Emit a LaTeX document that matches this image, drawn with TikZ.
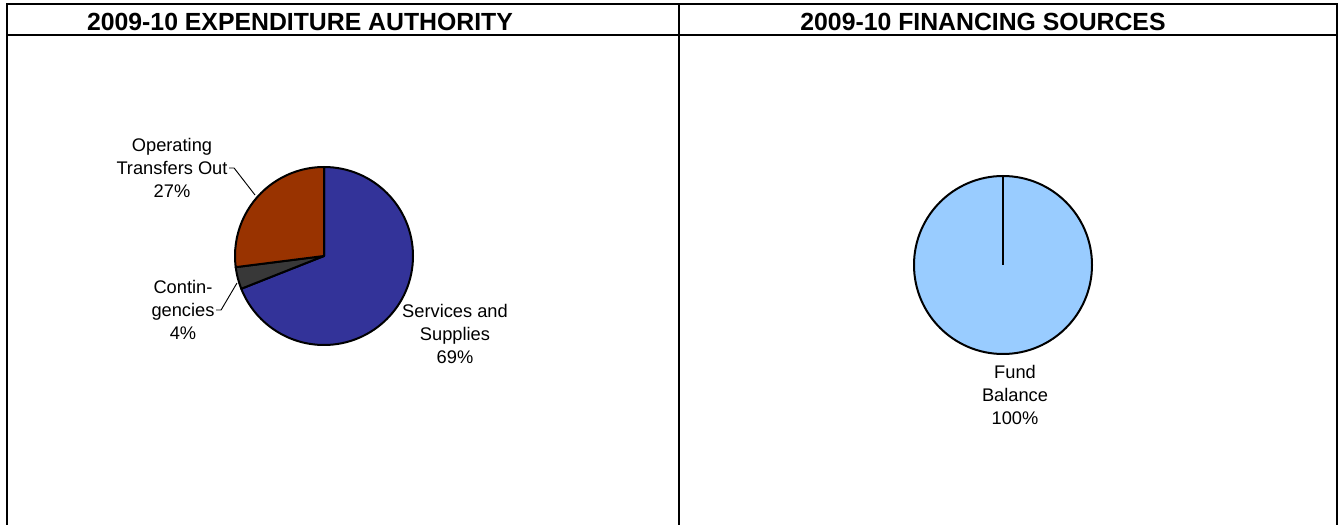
\documentclass[tikz,border=0pt]{standalone}
\usepackage{fontspec}
\setmainfont{Liberation Sans}
\usetikzlibrary{positioning}
\definecolor{svcblue}{HTML}{333399}
\definecolor{contgrey}{HTML}{383838}
\definecolor{otobrown}{HTML}{993300}
\definecolor{fundblue}{HTML}{99CCFF}
\begin{document}
\begin{tikzpicture}[x=0.75pt,y=0.75pt,
  frame/.style={line width=1.5pt},
  slice/.style={draw=black,line width=1.5pt,line join=round},
  lbl/.style={align=center,font=\fontsize{13.7}{17.25}\selectfont,inner sep=1pt},
  head/.style={font=\bfseries\fontsize{18.6}{20}\selectfont},
  leader/.style={line width=0.7pt}]

\useasboundingbox (0,0) rectangle (1340,525);

% table frame
\draw[frame] (7,0) -- (7,521) -- (1337,521) -- (1337,0);
\draw[frame] (7,490) -- (1337,490);
\draw[frame] (679,0) -- (679,521);

\node[head] (1) at (300,503) {2009-10 EXPENDITURE AUTHORITY};
\node[head] (2) at (983,503) {2009-10 FINANCING SOURCES};

% expenditure pie
\coordinate (c1) at (324,269);
\filldraw[slice,fill=svcblue] (c1) -- ++(90:66.75pt) arc[start angle=90,end angle=-158.4,radius=66.75pt] -- cycle;
\filldraw[slice,fill=contgrey] (c1) -- ++(201.6:66.75pt) arc[start angle=201.6,end angle=187.2,radius=66.75pt] -- cycle;
\filldraw[slice,fill=otobrown] (c1) -- ++(187.2:66.75pt) arc[start angle=187.2,end angle=90,radius=66.75pt] -- cycle;

\node[lbl] (3) at (172,357) {Operating\\Transfers Out\\27\%};
\node[lbl] (4) at (183,215) {Contin-\\gencies\\4\%};
\node[lbl] (5) at (455,191) {Services and\\Supplies\\69\%};

\coordinate (a3) at (255,330);
\coordinate (a4) at (237,242);
\draw[leader] (3.east) -- ++(5,0) -- (a3);
\draw[leader] (4.east) -- ++(5,0) -- (a4);

% financing pie
\coordinate (c2) at (1003,260);
\filldraw[slice,fill=fundblue] (c2) circle[radius=66.75pt];
\draw[slice] (c2) -- ++(90:66.75pt);

\node[lbl] (6) at (1015,130) {Fund\\Balance\\100\%};

\end{tikzpicture}
\end{document}
